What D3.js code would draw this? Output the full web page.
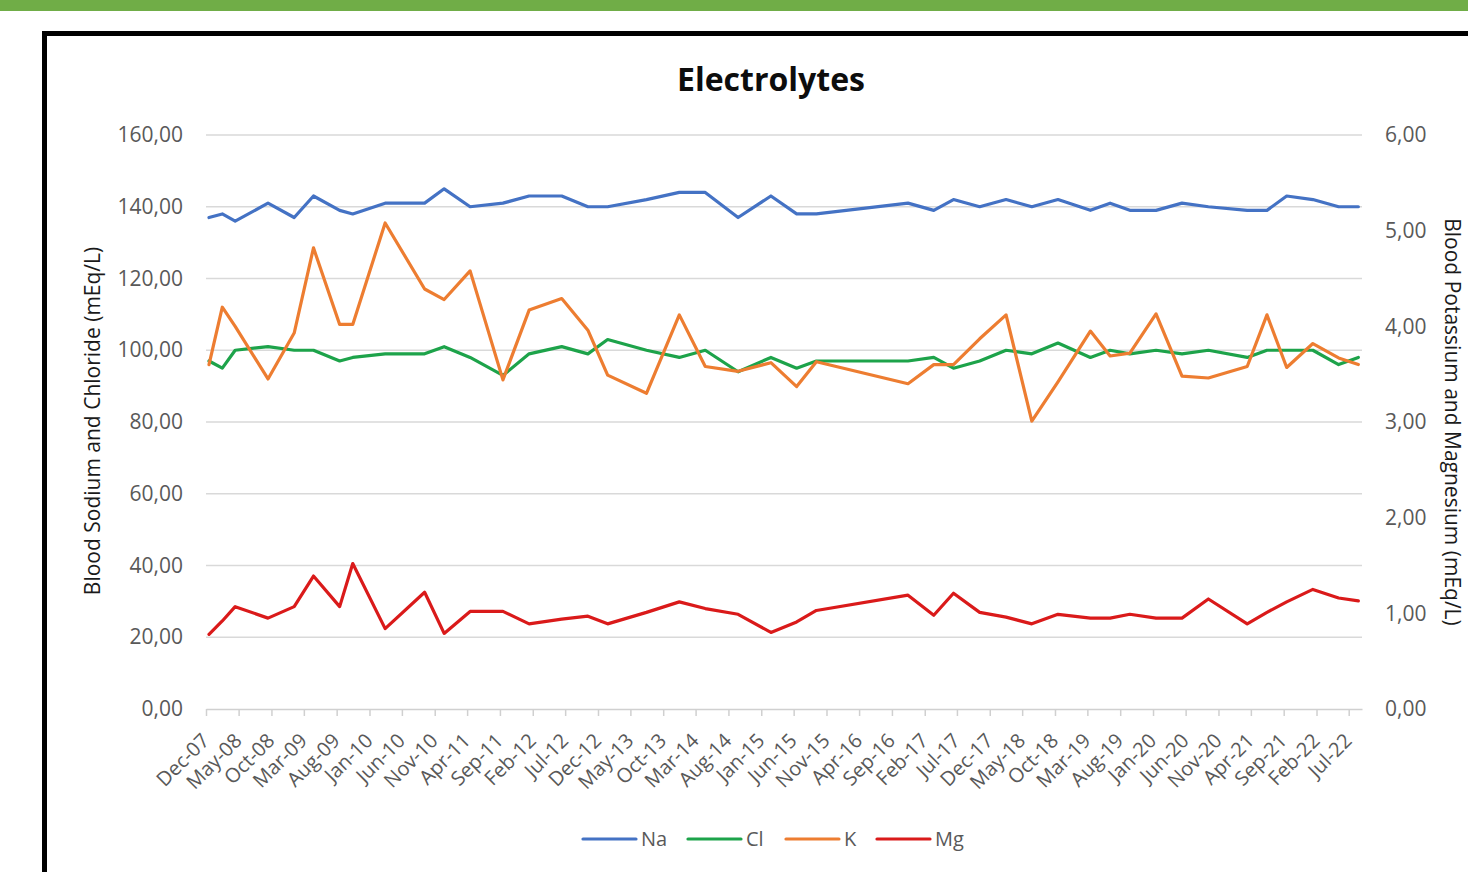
<!DOCTYPE html>
<html>
<head>
<meta charset="utf-8">
<script src="https://cdn.jsdelivr.net/npm/d3@7"></script>
<style>
  html, body { margin: 0; padding: 0; background: #ffffff; }
  svg { display: block; }
  text { font-family: "Open Sans", Lato, "DejaVu Sans", sans-serif; }
</style>
</head>
<body>
<script>
// ---------------- DATA ----------------
const dates = [
  "2007-12-15","2008-02-15","2008-04-15","2008-09-15","2009-01-15","2009-04-15","2009-08-15","2009-10-15",
  "2010-03-15","2010-09-15","2010-12-15","2011-04-15","2011-09-15","2012-01-15","2012-06-15","2012-10-15",
  "2013-01-15","2013-07-15","2013-12-15","2014-04-15","2014-09-15","2015-02-15","2015-06-15","2015-09-15",
  "2016-11-15","2017-03-15","2017-06-15","2017-10-15","2018-02-15","2018-06-15","2018-10-15","2019-03-15",
  "2019-06-15","2019-09-15","2020-01-15","2020-05-15","2020-09-15","2021-03-15","2021-06-15","2021-09-15",
  "2022-01-15","2022-05-15","2022-08-15"
];
const na = [137,138,136,141,137,143,139,138,141,141,145,140,141,143,143,140,140,142,144,144,137,143,138,138,141,139,142,140,142,140,142,139,141,139,139,141,140,139,139,143,142,140,140];
const cl = [97,95,100,101,100,100,97,98,99,99,101,98,93,99,101,99,103,100,98,100,94,98,95,97,97,98,95,97,100,99,102,98,100,99,100,99,100,98,100,100,100,96,98];
const k  = [3.60,4.20,4.00,3.45,3.93,4.82,4.02,4.02,5.08,4.39,4.28,4.58,3.44,4.17,4.29,3.96,3.49,3.30,4.12,3.58,3.53,3.62,3.37,3.63,3.40,3.60,3.60,3.87,4.12,3.01,3.42,3.95,3.69,3.72,4.13,3.48,3.46,3.58,4.12,3.57,3.82,3.67,3.60];
const mg = [0.78,0.92,1.07,0.95,1.07,1.39,1.07,1.52,0.84,1.22,0.79,1.02,1.02,0.89,0.94,0.97,0.89,1.01,1.12,1.05,0.99,0.80,0.91,1.03,1.19,0.98,1.21,1.01,0.96,0.89,0.99,0.95,0.95,0.99,0.95,0.95,1.15,0.89,1.01,1.12,1.25,1.16,1.13];

const xTickLabels = ["Dec-07","May-08","Oct-08","Mar-09","Aug-09","Jan-10","Jun-10","Nov-10","Apr-11","Sep-11","Feb-12","Jul-12",
  "Dec-12","May-13","Oct-13","Mar-14","Aug-14","Jan-15","Jun-15","Nov-15","Apr-16","Sep-16","Feb-17","Jul-17",
  "Dec-17","May-18","Oct-18","Mar-19","Aug-19","Jan-20","Jun-20","Nov-20","Apr-21","Sep-21","Feb-22","Jul-22"];
const leftTicks = [0,20,40,60,80,100,120,140,160];
const rightTicks = [0,1,2,3,4,5,6];
const seriesNames = ["Na","Cl","K","Mg"];
const seriesColors = ["#4472C4","#1DA34A","#ED7D31","#DA1A1A"];
const title = "Electrolytes";
const leftTitle = "Blood Sodium and Chloride (mEq/L)";
const rightTitle = "Blood Potassium and Magnesium (mEq/L)";
const xStart = "2007-12-01", xEnd = "2022-09-01";

// ---------------- CHART ----------------
const W = 1468, H = 872;
const svg = d3.select("body").append("svg").attr("width", W).attr("height", H);

svg.append("rect").attr("x", 0).attr("y", 0).attr("width", W).attr("height", 11).attr("fill", "#70AD47");
svg.append("rect").attr("x", 44.5).attr("y", 33.5).attr("width", 1500).attr("height", 900)
  .attr("fill", "#ffffff").attr("stroke", "#000000").attr("stroke-width", 5);

const parseD = d3.timeParse("%Y-%m-%d");
const parseTick = d3.timeParse("%b-%y");
const x = d3.scaleTime().domain([parseD(xStart), parseD(xEnd)]).range([206, 1362]);
const yL = d3.scaleLinear().domain([0, 160]).range([709, 135]);
const yR = d3.scaleLinear().domain([0, 6]).range([709, 135]);
const fmt = v => d3.format(".2f")(v).replace(".", ",");

// gridlines
svg.append("g").selectAll("line").data(leftTicks.filter(v => v > 0)).join("line")
  .attr("x1", 206).attr("x2", 1362).attr("y1", d => yL(d)).attr("y2", d => yL(d))
  .attr("stroke", "#D9D9D9").attr("stroke-width", 1.5);

// x axis
const tickDates = xTickLabels.map(s => parseTick(s));
const xAxis = d3.axisBottom(x).tickValues(tickDates).tickSize(7).tickSizeOuter(0).tickFormat((d, i) => xTickLabels[i]);
const gx = svg.append("g").attr("transform", "translate(0,709)").call(xAxis);
gx.select(".domain").attr("stroke", "#D0D0D0").attr("stroke-width", 1.5);
gx.selectAll(".tick line").attr("stroke", "#D0D0D0").attr("stroke-width", 1.5);
gx.selectAll(".tick text")
  .attr("font-size", 20).attr("fill", "#595959")
  .attr("text-anchor", "end").attr("dy", null).attr("y", 0)
  .attr("transform", "translate(4,33) rotate(-45)");

// left axis
const gl = svg.append("g").attr("transform", "translate(206,0)")
  .call(d3.axisLeft(yL).tickValues(leftTicks).tickSize(0).tickPadding(23).tickFormat(fmt));
gl.select(".domain").remove();
gl.selectAll(".tick text").attr("font-size", 21).attr("fill", "#595959");

// right axis
const gr = svg.append("g").attr("transform", "translate(1362,0)")
  .call(d3.axisRight(yR).tickValues(rightTicks).tickSize(0).tickPadding(23).tickFormat(fmt));
gr.select(".domain").remove();
gr.selectAll(".tick text").attr("font-size", 21).attr("fill", "#595959");

// series
const dArr = dates.map(parseD);
const series = [
  {name: "Na", vals: na, y: yL},
  {name: "Cl", vals: cl, y: yL},
  {name: "K",  vals: k,  y: yR},
  {name: "Mg", vals: mg, y: yR}
];
series.forEach((s, si) => {
  const line = d3.line().x((d, i) => x(dArr[i])).y(d => s.y(d));
  svg.append("path").datum(s.vals).attr("d", line)
    .attr("fill", "none").attr("stroke", seriesColors[si]).attr("stroke-width", 3.2)
    .attr("stroke-linejoin", "round").attr("stroke-linecap", "round");
});

// titles
svg.append("text").attr("x", 771).attr("y", 91).attr("text-anchor", "middle")
  .attr("font-size", 32).attr("font-weight", "bold").attr("fill", "#0D0D0D").text(title);
svg.append("text").attr("transform", "translate(100,421) rotate(-90)").attr("text-anchor", "middle")
  .attr("font-size", 21).attr("fill", "#1a1a1a").text(leftTitle);
svg.append("text").attr("transform", "translate(1445,422) rotate(90)").attr("text-anchor", "middle")
  .attr("font-size", 21).attr("fill", "#1a1a1a").text(rightTitle);

// legend
const legX = [583, 688, 786, 877];
const lg = svg.append("g");
seriesNames.forEach((n, i) => {
  lg.append("line").attr("x1", legX[i]).attr("x2", legX[i] + 53).attr("y1", 839).attr("y2", 839)
    .attr("stroke", seriesColors[i]).attr("stroke-width", 3.2).attr("stroke-linecap", "round");
  lg.append("text").attr("x", legX[i] + 58).attr("y", 846).attr("font-size", 20).attr("fill", "#595959").text(n);
});
</script>
</body>
</html>
